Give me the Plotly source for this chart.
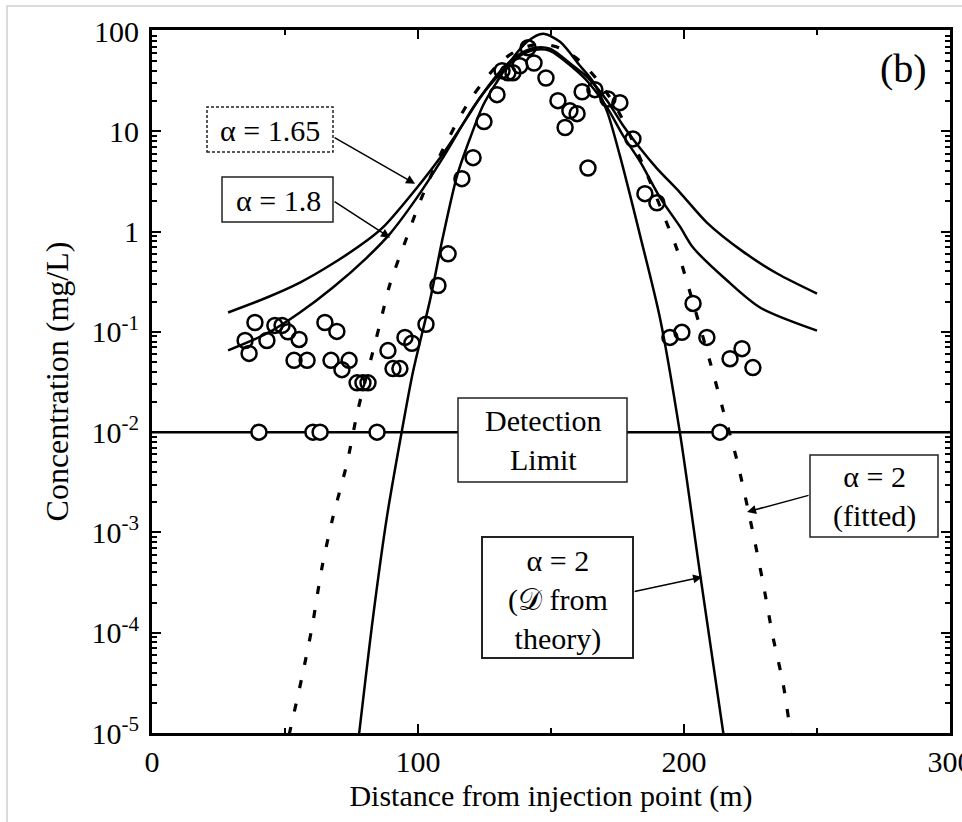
import math
import plotly.graph_objects as go

# ---- measured concentrations (mg/L) against distance from injection point (m)
obs_x = [35.0, 36.5, 38.7, 43.2, 46.2, 48.9, 51.1, 55.3, 53.4, 58.3,
         65.0, 69.5, 67.3, 74.1, 71.4, 77.1, 79.3, 81.2, 88.7, 90.6,
         93.2, 95.1, 97.7, 103.0, 107.5, 111.3, 116.5, 120.7, 124.8, 129.7,
         131.6, 133.8, 135.7, 138.3, 141.4, 143.6, 148.1, 152.6, 155.3, 157.1,
         159.8, 163.9, 161.7, 166.5, 171.4, 175.9, 180.8, 185.3, 189.8, 203.4,
         194.7, 199.2, 208.6, 217.3, 221.8, 225.9]
obs_c = [0.082, 0.061, 0.124, 0.082, 0.116, 0.116, 0.100, 0.084, 0.052, 0.052,
         0.124, 0.101, 0.052, 0.052, 0.042, 0.031, 0.031, 0.031, 0.065, 0.043,
         0.043, 0.088, 0.077, 0.119, 0.29, 0.60, 3.37, 5.46, 12.5, 23.2,
         40.2, 38.4, 38.4, 45.0, 68.0, 48.0, 34.0, 20.2, 10.9, 16.0,
         15.0, 4.3, 24.8, 26.0, 21.0, 19.3, 8.4, 2.39, 1.94, 0.192,
         0.088, 0.099, 0.088, 0.054, 0.068, 0.044]

# samples below detection, plotted at the detection limit
nd_x = [40.2, 60.5, 63.2, 84.6, 213.5]
detection_limit = 0.01

# ---- model curves
a165_x = [28.6, 43.2, 55.6, 68.0, 80.8, 86.8, 99.6, 109.4, 118.4, 123.3,
          130.8, 137.2, 144.0, 149.6, 158.3, 163.5, 171.1, 177.1, 183.5, 189.8,
          198.5, 208.6, 222.2, 235.0, 250.0]
a165_c = [0.156, 0.220, 0.310, 0.480, 0.813, 1.10, 2.74, 5.98, 13.6, 21.6,
          39.3, 56.6, 68.1, 66.5, 45.0, 35.0, 20.2, 11.4, 6.76, 4.27,
          2.45, 1.23, 0.631, 0.382, 0.241]

a18_x = [28.6, 43.2, 55.6, 68.0, 80.8, 89.5, 99.6, 109.4, 120.7, 127.1,
         137.2, 144.0, 149.6, 158.3, 163.5, 171.1, 177.1, 183.5, 191.0, 198.5,
         203.4, 216.2, 228.6, 250.0]
a18_c = [0.0653, 0.0964, 0.156, 0.277, 0.551, 0.955, 2.18, 5.46, 17.2, 29.0,
         54.1, 65.0, 63.5, 43.0, 31.9, 17.2, 9.04, 4.98, 2.18, 1.12,
         0.693, 0.325, 0.175, 0.103]

fit_x = [51.5, 56.4, 60.2, 63.9, 68.0, 73.3, 77.4, 83.1, 85.7, 89.5,
         95.9, 100.8, 109.4, 119.5, 130.8, 138.3, 146.0, 153.4, 160.9, 168.4,
         175.9, 185.3, 192.1, 197.4, 201.1, 209.8, 214.7, 219.9, 225.9, 229.7,
         233.5, 237.2, 240.2]
fit_c = [9.5e-6, 3.63e-5, 1.15e-4, 4.47e-4, 1.41e-3, 4.90e-3, 1.66e-2, 6.46e-2, 0.120, 0.302,
         0.891, 2.00, 6.61, 20.4, 48.4, 66.1, 74.1, 67.6, 50.1, 30.2,
         14.8, 4.17, 1.51, 0.661, 0.316, 0.0501, 0.0166, 5.25e-3, 1.00e-3, 3.16e-4,
         8.91e-5, 3.16e-5, 9.5e-6]

theory_x = [77.8, 83.1, 88.3, 94.0, 98.1, 104.5, 109.4, 114.7, 119.5, 124.4,
            129.7, 134.6, 141.0, 147.0, 153.4, 160.9, 165.8, 171.1, 175.9, 183.5,
            191.0, 198.5, 206.0, 214.9]
theory_c = [9.5e-6, 1.43e-4, 1.42e-3, 1.05e-2, 3.98e-2, 0.206, 0.891, 3.61, 8.43, 18.0,
            31.2, 49.3, 78.0, 93.8, 78.0, 45.0, 31.2, 15.7, 5.71, 0.912,
            0.136, 9.73e-3, 3.93e-4, 9.5e-6]

# ---- axis ticks
y_ticks = [1e-5, 1e-4, 1e-3, 1e-2, 1e-1, 1, 10, 100]
y_ticktext = ["10<sup>-5</sup>", "10<sup>-4</sup>", "10<sup>-3</sup>", "10<sup>-2</sup>",
              "10<sup>-1</sup>", "1", "10", "100"]
y_minor = [m * 10.0 ** k for k in range(-5, 2) for m in range(2, 10)]
x_ticks = [0, 100, 200, 300]
x_ticktext = ["0", "100", "200", "300"]
x_minor = [50, 150, 250]
x_range = [0, 300]
y_range = [-5, 2.01]

SERIF = "Liberation Serif, Times New Roman, serif"
W, H = 962, 822
L, R, T, B = 152, 12, 30, 89


def px(xp):
    return (xp - L) / (W - L - R)


def py(yp):
    return (H - B - yp) / (H - T - B)


line_style = dict(color="black", width=2.5)

fig = go.Figure()
fig.add_trace(go.Scatter(x=[0, 300], y=[detection_limit, detection_limit], mode="lines",
                         line=line_style, hoverinfo="skip"))
fig.add_trace(go.Scatter(x=a165_x, y=a165_c, mode="lines",
                         line=dict(line_style, shape="spline", smoothing=0.8)))
fig.add_trace(go.Scatter(x=a18_x, y=a18_c, mode="lines",
                         line=dict(line_style, shape="spline", smoothing=0.8)))
fig.add_trace(go.Scatter(x=theory_x, y=theory_c, mode="lines",
                         line=dict(line_style, shape="spline", smoothing=0.8)))
fig.add_trace(go.Scatter(x=fit_x, y=fit_c, mode="lines",
                         line=dict(color="black", width=3.2, shape="spline", smoothing=0.8,
                                   dash="8px,16px")))
fig.add_trace(go.Scatter(x=obs_x, y=obs_c, mode="markers",
                         marker=dict(symbol="circle-open", size=15, color="black",
                                     line=dict(width=2.5, color="black"))))
fig.add_trace(go.Scatter(x=nd_x, y=[detection_limit] * len(nd_x), mode="markers",
                         marker=dict(symbol="circle", size=15, color="white",
                                     line=dict(width=2.5, color="black"))))
# empty trace that carries the top / right frame axes
fig.add_trace(go.Scatter(x=[None], y=[None], xaxis="x2", yaxis="y2", mode="lines",
                         hoverinfo="skip"))

shapes = []
# outer frame
shapes.append(dict(type="rect", xref="paper", yref="paper",
                   x0=px(7), x1=px(990), y0=py(850), y1=py(6),
                   line=dict(color="#cfcfcf", width=1.5), layer="below"))

# label boxes: (left, top, right, bottom) in pixels
boxes = [
    ((207, 107, 333, 152), "3px,2px", 1.5),
    ((222, 177, 333, 222), "solid", 1.5),
    ((458, 398, 627, 482), "solid", 1.5),
    ((810, 455, 938, 537), "solid", 1.5),
    ((482, 537, 633, 658), "solid", 2),
]
for (x0, y0, x1, y1), dash, w in boxes:
    shapes.append(dict(type="rect", xref="paper", yref="paper",
                       x0=px(x0), x1=px(x1), y0=py(y1), y1=py(y0),
                       line=dict(color="#222222", width=w, dash=dash),
                       fillcolor="white", layer="above"))

text_font = dict(family=SERIF, size=30, color="black")
annotations = []
for txt, cx, cy in [
    ("α = 1.65", 270, 130),
    ("α = 1.8", 278, 200),
    ("Detection<br>Limit", 543, 440),
    ("α = 2<br>(fitted)", 874, 497),
    ("α = 2<br>(𝒟 from<br>theory)", 558, 600),
]:
    annotations.append(dict(text=txt, xref="paper", yref="paper", x=px(cx), y=py(cy),
                            showarrow=False, font=text_font, xanchor="center", yanchor="middle"))

annotations.append(dict(text="(b)", xref="paper", yref="paper", x=px(903), y=py(68),
                        showarrow=False, font=dict(family=SERIF, size=40, color="black"),
                        xanchor="center", yanchor="middle"))

# arrows from the label boxes to the curves (tip in data units, tail offset in pixels)
for tip_x, tip_c, ax, ay in [
    (98.9, 3.0, -82, -47),
    (89.5, 0.87, -57, -37),
    (223.7, 1.6e-3, 63, -17),
    (206.8, 3.6e-4, -69, 15),
]:
    annotations.append(dict(text="", x=tip_x, y=math.log10(tip_c), xref="x", yref="y",
                            ax=ax, ay=ay, showarrow=True, arrowhead=2, arrowsize=1.2,
                            arrowwidth=1.5, arrowcolor="black"))

tick_font = dict(family=SERIF, size=30, color="black")
x_common = dict(range=x_range, tickvals=x_ticks, ticks="inside", ticklen=9, tickwidth=2,
                tickcolor="black",
                minor=dict(tickvals=x_minor, ticks="inside", ticklen=5, tickwidth=2,
                           tickcolor="black", showgrid=False),
                showline=True, linecolor="black", linewidth=3,
                showgrid=False, zeroline=False, automargin=False)
y_common = dict(type="log", range=y_range, tickvals=y_ticks, ticks="inside", ticklen=9,
                tickwidth=2, tickcolor="black",
                minor=dict(tickvals=y_minor, ticks="inside", ticklen=5, tickwidth=1.5,
                           tickcolor="black", showgrid=False),
                showline=True, linecolor="black", linewidth=3,
                showgrid=False, zeroline=False, automargin=False)

fig.update_layout(
    width=W, height=H,
    margin=dict(l=L, r=R, t=T, b=B, autoexpand=False),
    paper_bgcolor="white", plot_bgcolor="white",
    showlegend=False,
    shapes=shapes, annotations=annotations,
    xaxis=dict(x_common, ticktext=x_ticktext, tickfont=tick_font,
               ticklabeloverflow="allow",
               title=dict(text="Distance from injection point (m)",
                          font=dict(family=SERIF, size=30, color="black"), standoff=8)),
    yaxis=dict(y_common, ticktext=y_ticktext, tickfont=tick_font, ticklabelstandoff=4,
               title=dict(text="Concentration (mg/L)",
                          font=dict(family=SERIF, size=32, color="black"), standoff=14)),
    xaxis2=dict(x_common, overlaying="x", side="top", showticklabels=False),
    yaxis2=dict(y_common, overlaying="y", side="right", showticklabels=False),
)

fig.write_html("out.html")
